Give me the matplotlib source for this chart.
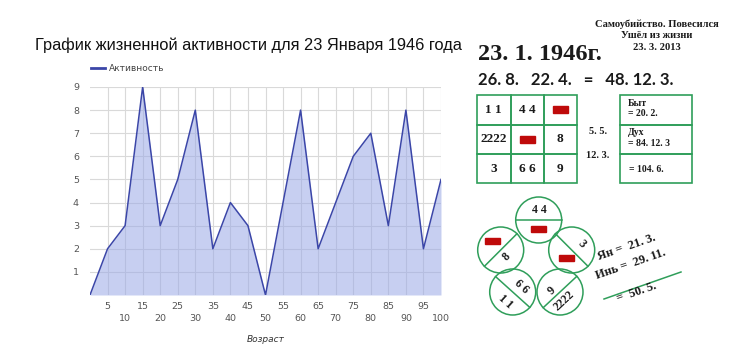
import math
import matplotlib
matplotlib.use("Agg")
import matplotlib.pyplot as plt
from matplotlib.patches import Rectangle, Circle
from matplotlib.lines import Line2D

# chart data
ages = [0, 5, 10, 15, 20, 25, 30, 35, 40, 45, 50, 55, 60, 65, 70, 75, 80, 85, 90, 95, 100]
activity = [0, 2, 3, 9, 3, 5, 8, 2, 4, 3, 0, 4, 8, 2, 4, 6, 7, 3, 8, 2, 5]
y_ticks = [1, 2, 3, 4, 5, 6, 7, 8, 9]
title = "График жизненной активности для 23 Января 1946 года"
series_name = "Активность"
x_title = "Возраст"

# numerology side
square = [["1 1", "4 4", None], ["2222", None, "8"], ["3", "6 6", "9"]]
side_boxes = [("Быт", "= 20. 2."), ("Дух", "= 84. 12. 3"), ("", "= 104. 6.")]

W, H = 730, 359
fig = plt.figure(figsize=(W / 100, H / 100), dpi=100)
fig.patch.set_facecolor("white")

line_c = "#3b46a8"
fill_c = "#9aa9e6"
grid_c = "#d9d9d9"

x0, x1, ytop, ybot = 90, 441, 87, 295
ax = fig.add_axes([x0 / W, 1 - ybot / H, (x1 - x0) / W, (ybot - ytop) / H])
ax.fill_between(ages, activity, 0, color=fill_c, alpha=0.55, lw=0, zorder=2)
ax.plot(ages, activity, color=line_c, lw=1.1, zorder=3)
ax.set_xlim(0, 100)
ax.set_ylim(0, 9)
for s in ax.spines.values():
    s.set_visible(False)
ax.set_yticks(y_ticks)
ax.set_yticklabels([str(v) for v in y_ticks])
major = [a for a in ages if a > 0 and a % 10 == 0]
minor = [a for a in ages if a % 10 == 5]
ax.set_xticks(major)
ax.set_xticklabels([str(v) for v in major])
ax.set_xticks(minor, minor=True)
ax.set_xticklabels([str(v) for v in minor], minor=True)
ax.tick_params(axis="x", which="major", length=0, pad=14, labelsize=6.8, labelcolor="#555555")
ax.tick_params(axis="x", which="minor", length=0, pad=5, labelsize=6.8, labelcolor="#555555")
ax.tick_params(axis="y", length=0, pad=8, labelsize=6.8, labelcolor="#555555")
ax.grid(True, which="both", color=grid_c, lw=0.8, zorder=0)
ax.set_axisbelow(True)
ax.set_xlabel(x_title, fontsize=6.5, style="italic", color="#333333", labelpad=8)

leg = ax.legend([Line2D([0], [0], color=line_c, lw=2)], [series_name],
                loc="lower left", bbox_to_anchor=(-0.015, 1.035), frameon=False,
                fontsize=6.5, handlelength=1.6, handletextpad=0.4, borderaxespad=0.3)
for t in leg.get_texts():
    t.set_color("#444444")

fig.text(35 / W, 1 - 45 / H, title, fontsize=11.8, family="Liberation Sans",
         va="center", ha="left", color="#111111")

# overlay in pixel coordinates
ov = fig.add_axes([0, 0, 1, 1])
ov.set_xlim(0, W)
ov.set_ylim(H, 0)
ov.axis("off")
ov.patch.set_alpha(0)

green = "#2f9e5a"
red = "#bf0a0a"
serif = "Liberation Serif"


def txt(x, y, s, size, rot=0, ha="center", family=serif):
    ov.text(x, y, s, fontsize=size, family=family, weight="bold", ha=ha, va="center",
            rotation=rot, rotation_mode="anchor", color="#1a1a1a")


def redbar(x, y):
    ov.add_patch(Rectangle((x - 7.5, y - 3.3), 15, 6.6, color=red, zorder=5))


txt(657, 24, "Самоубийство. Повесился", 7.6)
txt(657, 36, "Ушёл из жизни", 7.6)
txt(657, 48, "23. 3. 2013", 7.6)
txt(478, 55, "23. 1. 1946г.", 17.5, ha="left")
txt(478, 80, "26. 8.   22. 4.   =   48. 12. 3.", 12, ha="left", family="Lato")

# 3x3 square
gx = [477, 510.5, 543.7, 577]
gy = [95, 124.5, 154, 183]
for r in range(3):
    for c in range(3):
        ov.add_patch(Rectangle((gx[c], gy[r]), gx[c + 1] - gx[c], gy[r + 1] - gy[r],
                               fill=False, ec=green, lw=1.2))
        cx = (gx[c] + gx[c + 1]) / 2
        cy = (gy[r] + gy[r + 1]) / 2
        if square[r][c] is None:
            redbar(cx, cy)
        else:
            txt(cx, cy, square[r][c], 9.5)

txt(598, 131, "5. 5.", 7.5)
txt(598, 155, "12. 3.", 7.5)

bx0, bx1 = 620, 692
for i, (a, b) in enumerate(side_boxes):
    ov.add_patch(Rectangle((bx0, gy[i]), bx1 - bx0, gy[i + 1] - gy[i], fill=False, ec=green, lw=1.2))
    if a:
        txt(628, gy[i] + 8, a, 7, ha="left")
        txt(628, gy[i] + 19, b, 7, ha="left")
    else:
        txt(629, gy[i] + 15, b, 7, ha="left")

# circles: (cx, cy, divider angle)
rad = 23
circles = [(538.7, 220, 0), (500.7, 250, 45), (571.7, 250, -45), (512.7, 292, -42), (560, 292, 43)]
for cx, cy, ang in circles:
    ov.add_patch(Circle((cx, cy), rad, fill=False, ec=green, lw=1.1))
    dx = rad * math.cos(math.radians(ang))
    dy = rad * math.sin(math.radians(ang))
    ov.plot([cx - dx, cx + dx], [cy + dy, cy - dy], color=green, lw=1.1)

txt(539, 210, "4 4", 8.5)
redbar(538.5, 229)
redbar(492, 241)
txt(507, 257, "8", 8.5, rot=45)
txt(582, 244, "3", 8.5, rot=-45)
redbar(566, 258)
txt(521, 287, "6 6", 8.5, rot=-42)
txt(505, 302, "1 1", 8.5, rot=-42)
txt(552, 291, "9", 8.5, rot=43)
txt(564, 301, "2222", 8.5, rot=43)

txt(627, 247, "Ян =  21. 3.", 9, rot=19)
txt(631, 264, "Инь =  29. 11.", 9, rot=19)
ov.plot([604, 681], [299, 272], color=green, lw=1.1)
txt(637, 292, "=  50. 5.", 9, rot=19)

fig.savefig("out.png", dpi=100, facecolor="white")
